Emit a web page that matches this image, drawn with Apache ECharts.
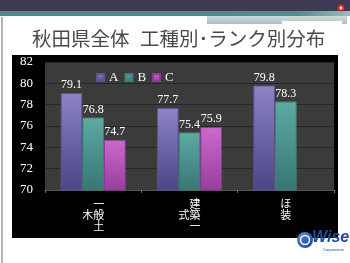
<!DOCTYPE html>
<html><head><meta charset="utf-8">
<script src="https://cdn.jsdelivr.net/npm/echarts@6/dist/echarts.min.js"></script>
<style>html,body{margin:0;padding:0;background:#fff;}#c{width:350px;height:263px;}</style>
</head><body><div id="c"></div>
<script>
const categories = ['一般土木', '建築一式', 'ほ装'];
const categoryLabels = ['\u3000一\n木般\n\u3000土', '\u3000建\n式築\n\u3000一', 'ほ\n装'];
const seriesA = [79.1, 77.7, 79.8];
const seriesB = [76.8, 75.4, 78.3];
const seriesC = [74.7, 75.9, null];
const yTicks = {min: 70, max: 82, interval: 2};

const chart = echarts.init(document.getElementById('c'), null, {renderer: 'canvas'});
const serif = 'Liberation Serif';
function grad(top, bottom) {
  return new echarts.graphic.LinearGradient(0, 0, 0, 1, [{offset: 0, color: top}, {offset: 1, color: bottom}]);
}
const labelCfg = {show: true, position: 'top', distance: 2, color: '#fff', fontFamily: serif, fontSize: 12};
function mk(name, data, top, bottom, border) {
  return {
    name, type: 'bar', data, barWidth: '22.5%', barGap: '0%',
    itemStyle: {color: grad(top, bottom), borderColor: border, borderWidth: 1},
    label: labelCfg, z: 3
  };
}
chart.setOption({
  animation: false,
  backgroundColor: '#fff',
  graphic: [
    {type: 'rect', shape: {x: 0, y: 0, width: 350, height: 11}, style: {fill: '#3e3a53'}, z: -10},
    {type: 'rect', shape: {x: 0, y: 11, width: 350, height: 5}, style: {fill: new echarts.graphic.LinearGradient(0,0,1,0,[{offset:0,color:'#4a8a8c'},{offset:0.85,color:'#4f8d90'},{offset:1,color:'#9cbcbc'}])}, z: -10},
    {type: 'rect', shape: {x: 207, y: 16, width: 140, height: 8}, style: {fill: new echarts.graphic.LinearGradient(0,0,0,1,[{offset:0,color:'#cfdcdc'},{offset:1,color:'#a8c2c4'}])}, z: -10},
    {type: 'rect', shape: {x: 282, y: 21, width: 60, height: 3}, style: {fill: '#ffffff'}, z: -9},
    {type: 'circle', shape: {cx: 341, cy: 8, r: 3.5}, style: {fill: '#e8261c'}, z: 10},
    {type: 'circle', shape: {cx: 341, cy: 8, r: 1.4}, style: {fill: '#ffffff'}, z: 11},
    {type: 'rect', shape: {x: 1, y: 17, width: 2, height: 246}, style: {fill: '#b4b4b4'}, z: -10},
    {type: 'text', x: 32, y: 29, style: {text: '秋田県全体', fontFamily: 'Noto Sans CJK JP', fontSize: 19.5, fill: '#4a4a4a'}, z: 5},
    {type: 'text', x: 140, y: 29, style: {text: '工種別･ランク別分布', fontFamily: 'Noto Sans CJK JP', fontSize: 19.5, fill: '#4a4a4a'}, z: 5},
    {type: 'rect', shape: {x: 12, y: 55, width: 326, height: 183}, style: {fill: '#000'}, z: -5},
    {type: 'circle', shape: {cx: 305, cy: 240, r: 8}, style: {fill: new echarts.graphic.LinearGradient(0,0,1,1,[{offset:0,color:'#5b8fd6'},{offset:1,color:'#173f8f'}])}, z: 5},
    {type: 'circle', shape: {cx: 305, cy: 240, r: 4.5}, style: {fill: 'none', stroke: '#fff', lineWidth: 1.5}, z: 6},
    {type: 'text', x: 312, y: 230, style: {text: 'Wise', fontFamily: 'Liberation Sans', fontWeight: 'bold', fontStyle: 'italic', fontSize: 16, fill: '#1d4c9e'}, z: 5},
    {type: 'text', x: 323, y: 248, style: {text: 'Corporation', fontFamily: 'Liberation Sans', fontSize: 4, fill: '#1d4c9e'}, z: 5}
  ],
  legend: {
    data: ['A', 'B', 'C'], left: 91, top: 66, itemWidth: 7, itemHeight: 7, itemGap: 6,
    icon: 'rect',
    textStyle: {color: '#fff', fontFamily: serif, fontSize: 13}
  },
  grid: {left: 45, right: 16, top: 62, bottom: 73, show: true, backgroundColor: '#3b3b3b', borderWidth: 0},
  xAxis: {
    type: 'category', data: categories,
    axisLine: {show: true, lineStyle: {color: '#555'}},
    axisTick: {show: true, length: 3, lineStyle: {color: '#777'}},
    axisLabel: {
      color: '#fff', fontFamily: 'Noto Sans CJK JP', fontSize: 11, lineHeight: 11, margin: 8,
      formatter: (v, i) => categoryLabels[i]
    }
  },
  yAxis: {
    type: 'value', min: yTicks.min, max: yTicks.max, interval: yTicks.interval,
    axisLine: {show: false}, axisTick: {show: false},
    axisLabel: {color: '#fff', fontFamily: serif, fontSize: 13, margin: 12},
    splitLine: {lineStyle: {color: '#262626'}}
  },
  series: [
    mk('A', seriesA, '#8c84c4', '#4b4585', '#5b5392'),
    mk('B', seriesB, '#5eaaa3', '#377673', '#3d7f7b'),
    mk('C', seriesC, '#cc6acc', '#963e9e', '#8d3c93')
  ]
});
</script></body></html>
